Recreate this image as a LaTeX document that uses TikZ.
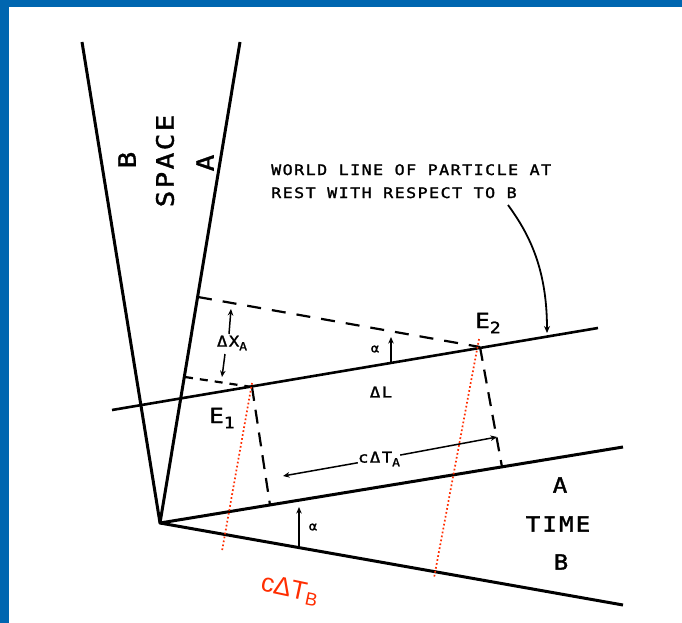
\documentclass[tikz,border=0pt]{standalone}
\usepackage{fontspec}
\usetikzlibrary{arrows.meta}
\newfontfamily\lett[FakeStretch=1.15,LetterSpace=10,FakeBold=1.6]{DejaVu Sans Mono}
\newfontfamily\redf{Liberation Sans}
\definecolor{frameblue}{RGB}{0,102,176}
\definecolor{redlab}{RGB}{255,45,0}
\newcommand\lsub[1]{\raisebox{-0.45ex}{\scalebox{0.75}{#1}}}
\tikzset{
  axis/.style={line width=3pt, line join=round},
  wline/.style={line width=2.6pt},
  dashtop/.style={line width=2.2pt, dash pattern=on 14pt off 11pt},
  dashshort/.style={line width=2.2pt, dash pattern=on 8pt off 7pt},
  dashvert/.style={line width=2.2pt, dash pattern=on 14pt off 9pt},
  dimarr/.style={line width=1.5pt, -{Stealth[length=6.5pt,width=5.5pt]}},
  callout/.style={line width=1.8pt, -{Stealth[length=7pt,width=6pt]}},
  reddot/.style={draw=redlab, line width=1.7pt, dash pattern=on 1.7pt off 2.3pt},
  lab/.style={inner sep=0pt, text=black},
  tiny/.style={lab, font=\lett\fontsize{12}{14}\selectfont},
  small/.style={lab, font=\lett\fontsize{14.5}{16}\selectfont},
  mid/.style={lab, font=\lett\fontsize{15}{17}\selectfont},
  big/.style={lab, font=\lett\fontsize{21}{24}\selectfont},
  huge/.style={lab, font=\lett\fontsize{24}{26}\selectfont},
  redlabel/.style={inner sep=0pt, text=redlab, font=\redf\fontsize{26}{28}\selectfont}
}
\begin{document}
\begin{tikzpicture}[x=1pt,y=-1pt]
\useasboundingbox (0,0) rectangle (682,623);
\fill[white] (0,0) rectangle (682,623);
\fill[frameblue] (0,0) rectangle (682,7);
\fill[frameblue] (0,0) rectangle (9,623);

% coordinates
\coordinate (O) at (160,523);
\coordinate (Bs) at (82,42);
\coordinate (As) at (240,42);
\coordinate (At) at (623,447);
\coordinate (Bt) at (623,605);
\coordinate (W1) at (112,410);
\coordinate (W2) at (598,328);
\coordinate (E1) at (252,387);
\coordinate (E2) at (480,347);
\coordinate (D1) at (198,297);
\coordinate (D2) at (185,377);
\coordinate (F1) at (270,505);
\coordinate (F2) at (502,467);

% axes
\draw[axis] (Bs) -- (O) -- (As);
\draw[axis] (At) -- (O) -- (Bt);
% world line
\draw[wline] (W1) -- (W2);
% dashed construction lines
\draw[dashtop] (D1) -- (E2);
\draw[dashshort] (D2) -- (E1);
\draw[dashvert] (E1) -- (F1);
\draw[dashvert] (E2) -- (F2);

% red dotted perpendiculars
\coordinate (R1a) at (252,383);
\coordinate (R1b) at (222,551);
\coordinate (R2a) at (479,339);
\coordinate (R2b) at (434,578);
\draw[reddot] (R1a) -- (R1b);
\draw[reddot] (R2a) -- (R2b);

% space labels
\node[huge, rotate=90] (lb) at (127,160) {B};
\node[huge, rotate=90] (lspace) at (165,161) {SPACE};
\node[huge, rotate=90] (la) at (205,163) {A};

% time labels
\node[big] (ta) at (560,485) {A};
\node[big] (ttime) at (558,524) {TIME};
\node[big] (tb) at (561,562) {B};

% world line caption
\node[small, anchor=base west] (wl1) at (271,175) {WORLD LINE OF PARTICLE AT};
\node[small, anchor=base west] (wl2) at (271,198) {REST WITH RESPECT TO B};
\coordinate (cs) at (508,205);
\coordinate (ce) at (547,333);
\draw[callout] (cs) .. controls (530,235) and (547,270) .. (ce);

% event labels
\node[big] (e1) at (222,418) {E\lsub{1}};
\node[big] (e2) at (488,323) {E\lsub{2}};
\node[mid] (dl) at (381,392) {ΔL};

% Delta x_A
\node[mid] (dxa) at (232,343) {ΔX\lsub{A}};
\coordinate (xt0) at (229,334);
\coordinate (xa1) at (231,309);
\coordinate (xb0) at (225,354);
\coordinate (xa2) at (222,377);
\draw[dimarr] (xt0) -- (xa1);
\draw[dimarr] (xb0) -- (xa2);

% c Delta T_A
\node[mid] (cta) at (379,459) {cΔT\lsub{A}};
\coordinate (c1) at (283,476);
\coordinate (c2) at (497,437);
\draw[dimarr] (cta) -- (c1);
\draw[dimarr] (cta) -- (c2);

% alpha arrows
\coordinate (a1s) at (391,362);
\coordinate (a1e) at (391,337);
\draw[dimarr] (a1s) -- (a1e);
\node[tiny] (al1) at (375,349) {α};
\coordinate (a2s) at (299,547);
\coordinate (a2e) at (299,507);
\draw[dimarr] (a2s) -- (a2e);
\node[tiny] (al2) at (313,527) {α};

% red label
\node[redlabel, rotate=-12] (ctb) at (290,590) {cΔT\textsubscript{B}};
\end{tikzpicture}
\end{document}
